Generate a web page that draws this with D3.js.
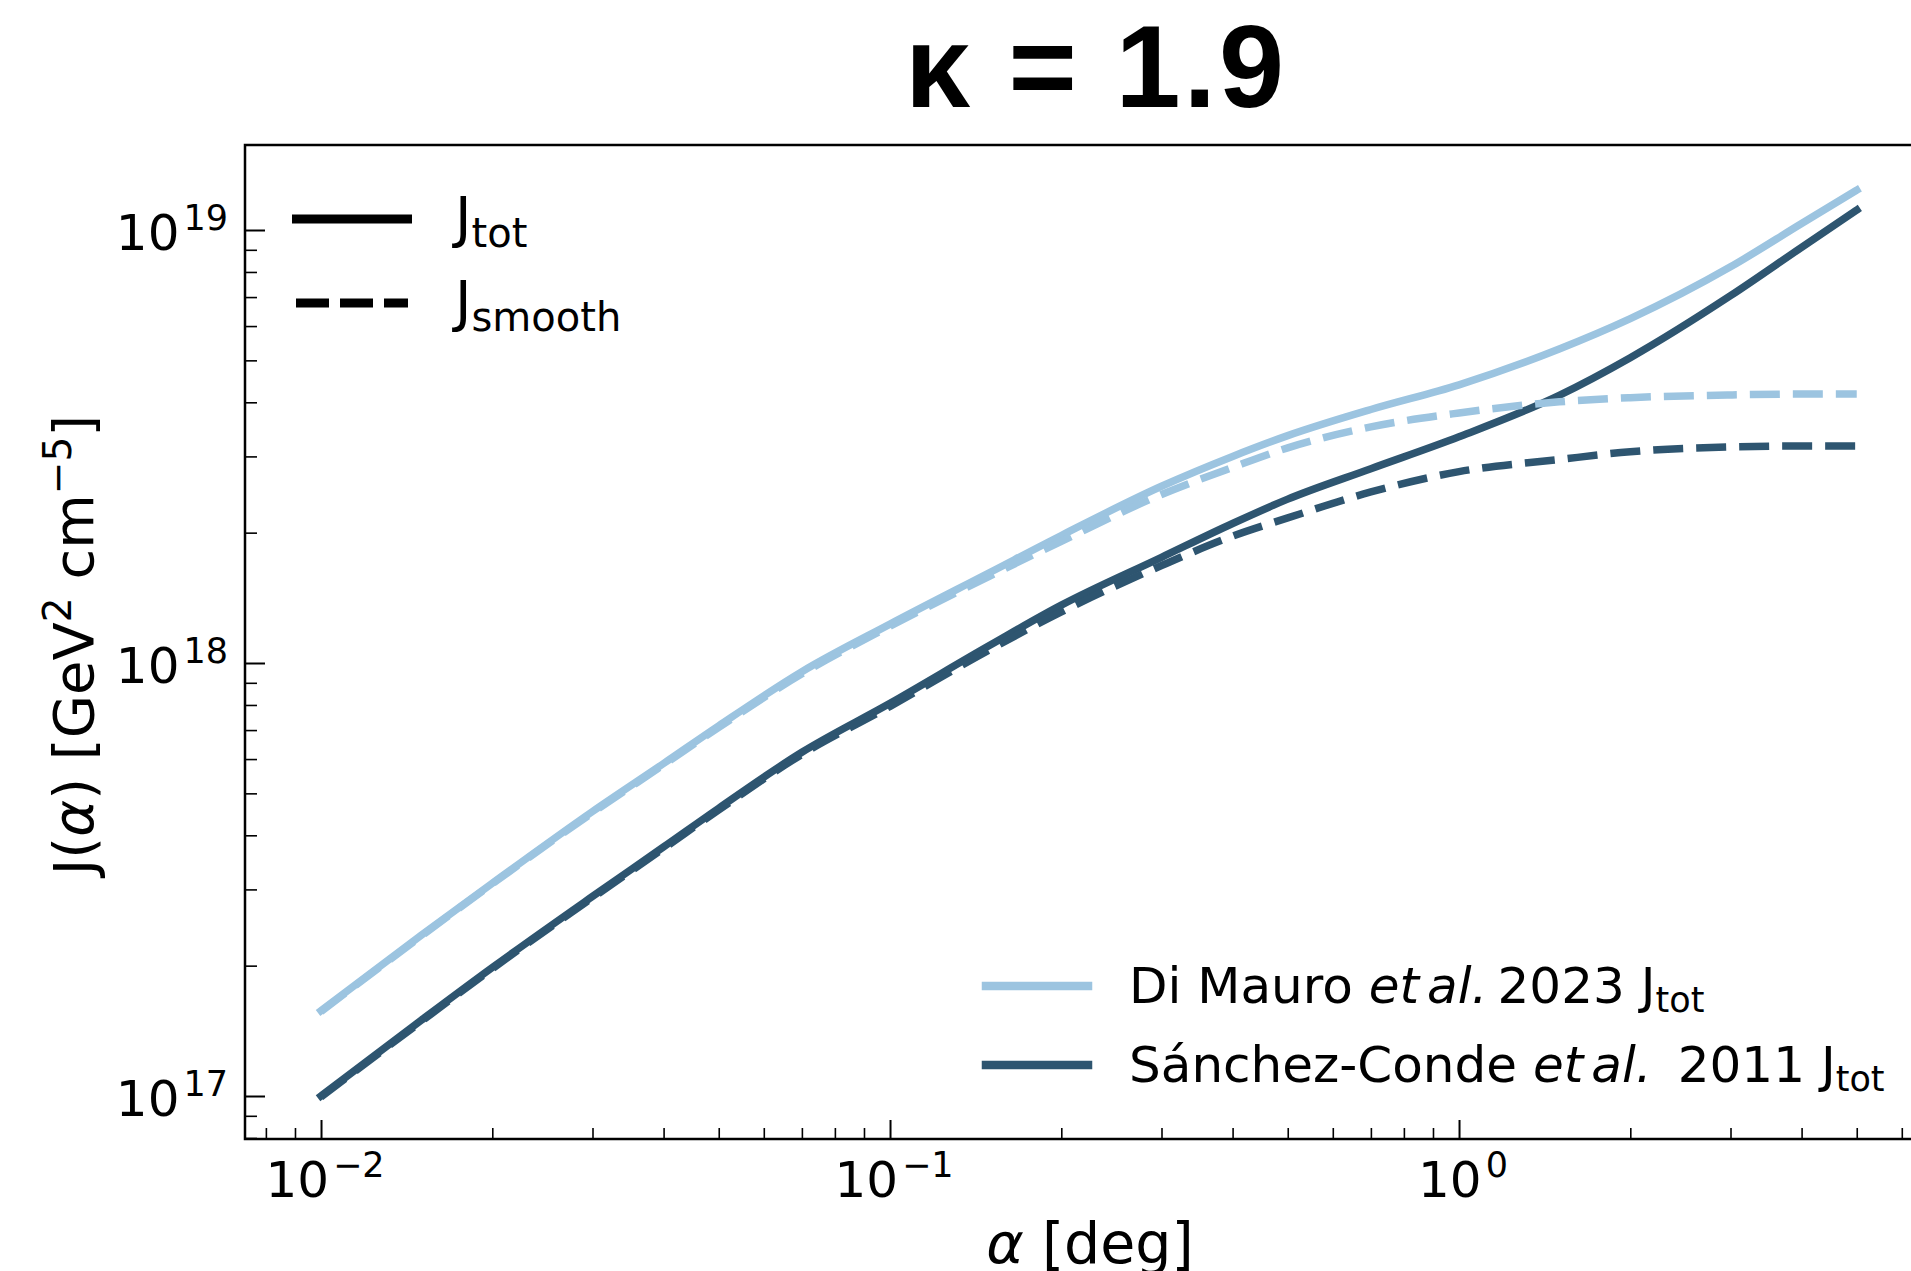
<!DOCTYPE html>
<html>
<head>
<meta charset="utf-8">
<script src="https://cdn.jsdelivr.net/npm/d3@7"></script>
<style>
  body { margin: 0; background: #ffffff; }
  svg { display: block; }
  text { font-family: "DejaVu Sans", sans-serif; fill: #000; }
</style>
</head>
<body>
<script>
// Opening angle alpha [deg]
const alpha = [0.01, 0.015, 0.02, 0.03, 0.04, 0.05, 0.07, 0.1, 0.15, 0.2, 0.3, 0.4, 0.5, 0.7, 1.0, 1.5, 2.0, 3.0, 4.0, 5.0];

// J-factor [GeV^2 cm^-5], Di Mauro et al. 2023 profile
const diMauroTot    = [1.574e17, 2.35e17, 3.10e17, 4.54e17, 5.86e17, 7.16e17, 9.55e17, 1.23e18, 1.62e18, 1.97e18, 2.56e18, 3.00e18, 3.35e18, 3.85e18, 4.39e18, 5.31e18, 6.24e18, 8.22e18, 1.035e19, 1.236e19];
const diMauroSmooth = [1.567e17, 2.34e17, 3.09e17, 4.51e17, 5.82e17, 7.10e17, 9.44e17, 1.216e18, 1.59e18, 1.91e18, 2.45e18, 2.83e18, 3.14e18, 3.51e18, 3.78e18, 4.01e18, 4.10e18, 4.16e18, 4.18e18, 4.18e18];

// J-factor [GeV^2 cm^-5], Sanchez-Conde et al. 2011 profile
const sanchezTot    = [1.00e17, 1.496e17, 1.98e17, 2.89e17, 3.76e17, 4.62e17, 6.22e17, 8.07e17, 1.10e18, 1.36e18, 1.754e18, 2.10e18, 2.39e18, 2.81e18, 3.33e18, 4.15e18, 5.07e18, 7.05e18, 9.12e18, 1.112e19];
const sanchezSmooth = [0.995e17, 1.486e17, 1.968e17, 2.87e17, 3.73e17, 4.58e17, 6.15e17, 7.94e17, 1.075e18, 1.312e18, 1.679e18, 1.963e18, 2.163e18, 2.483e18, 2.767e18, 2.951e18, 3.076e18, 3.155e18, 3.17e18, 3.17e18];

// Axis ticks (decade exponents)
const xTickExponents = [-2, -1, 0];
const yTickExponents = [17, 18, 19];

const LIGHT = "#9cc4e0";
const DARK = "#2e5570";

const W = 1911, H = 1271;
const plot = { left: 245, right: 1933, top: 145, bottom: 1139 };

const svg = d3.select("body").append("svg")
  .attr("width", W).attr("height", H)
  .attr("viewBox", `0 0 ${W} ${H}`);

const x = d3.scaleLog()
  .domain([Math.pow(10, -2.1336), Math.pow(10, 0.833)])
  .range([plot.left, plot.right]);
const y = d3.scaleLog()
  .domain([Math.pow(10, 16.9007), Math.pow(10, 19.1963)])
  .range([plot.bottom, plot.top]);

// clip for the curves
svg.append("defs").append("clipPath").attr("id", "plotclip")
  .append("rect")
  .attr("x", plot.left).attr("y", plot.top)
  .attr("width", plot.right - plot.left).attr("height", plot.bottom - plot.top);

// ---- minor / major tick values ----
function minorTicks(scale) {
  const [a, b] = scale.domain();
  const out = [];
  for (let k = Math.floor(Math.log10(a)); k <= Math.ceil(Math.log10(b)); k++) {
    for (let m = 2; m <= 9; m++) {
      const v = m * Math.pow(10, k);
      if (v >= a && v <= b) out.push(v);
    }
  }
  return out;
}
const xMajor = xTickExponents.map(e => Math.pow(10, e));
const yMajor = yTickExponents.map(e => Math.pow(10, e));

// inward ticks on bottom axis
svg.append("g").attr("class", "xminor")
  .attr("transform", `translate(0,${plot.bottom})`)
  .call(d3.axisBottom(x).tickValues(minorTicks(x)).tickSize(-11).tickSizeOuter(0).tickFormat(""))
  .call(g => g.select(".domain").remove())
  .call(g => g.selectAll("line").attr("stroke", "#000").attr("stroke-width", 1.6));
svg.append("g").attr("class", "xmajor")
  .attr("transform", `translate(0,${plot.bottom})`)
  .call(d3.axisBottom(x).tickValues(xMajor).tickSize(-19).tickSizeOuter(0).tickFormat(""))
  .call(g => g.select(".domain").remove())
  .call(g => g.selectAll("line").attr("stroke", "#000").attr("stroke-width", 2));

// inward ticks on left axis
svg.append("g").attr("class", "yminor")
  .attr("transform", `translate(${plot.left},0)`)
  .call(d3.axisLeft(y).tickValues(minorTicks(y)).tickSize(-12).tickSizeOuter(0).tickFormat(""))
  .call(g => g.select(".domain").remove())
  .call(g => g.selectAll("line").attr("stroke", "#000").attr("stroke-width", 1.6));
svg.append("g").attr("class", "ymajor")
  .attr("transform", `translate(${plot.left},0)`)
  .call(d3.axisLeft(y).tickValues(yMajor).tickSize(-20).tickSizeOuter(0).tickFormat(""))
  .call(g => g.select(".domain").remove())
  .call(g => g.selectAll("line").attr("stroke", "#000").attr("stroke-width", 2));

// ---- tick labels 10^n ----
function powerLabel(sel, exp) {
  sel.append("tspan").text("10");
  sel.append("tspan")
    .attr("font-size", 35).attr("dx", 4).attr("dy", -20)
    .text(exp < 0 ? "\u2212" + Math.abs(exp) : String(exp));
}
xTickExponents.forEach(e => {
  const t = svg.append("text")
    .attr("x", x(Math.pow(10, e)) + 4).attr("y", plot.bottom + 58)
    .attr("font-size", 50).attr("text-anchor", "middle");
  powerLabel(t, e);
});
yTickExponents.forEach(e => {
  const t = svg.append("text")
    .attr("x", 228).attr("y", y(Math.pow(10, e)) + 20)
    .attr("font-size", 50).attr("text-anchor", "end");
  powerLabel(t, e);
});

// ---- curves ----
const line = d3.line().x(d => x(d[0])).y(d => y(d[1])).curve(d3.curveMonotoneX);
const curves = [
  { values: sanchezTot, color: DARK, dashed: false },
  { values: sanchezSmooth, color: DARK, dashed: true },
  { values: diMauroTot, color: LIGHT, dashed: false },
  { values: diMauroSmooth, color: LIGHT, dashed: true }
];
const gCurves = svg.append("g").attr("clip-path", "url(#plotclip)");
curves.forEach(c => {
  gCurves.append("path")
    .datum(alpha.map((a, i) => [a, c.values[i]]))
    .attr("d", line)
    .attr("fill", "none")
    .attr("stroke", c.color)
    .attr("stroke-width", 7.5)
    .attr("stroke-linejoin", "round")
    .attr("stroke-linecap", c.dashed ? "butt" : "square")
    .attr("stroke-dasharray", c.dashed ? "30,13" : null);
});

// ---- frame ----
svg.append("rect")
  .attr("x", plot.left).attr("y", plot.top)
  .attr("width", plot.right - plot.left).attr("height", plot.bottom - plot.top)
  .attr("fill", "none").attr("stroke", "#000").attr("stroke-width", 2.5);

// ---- line-style legend (upper left) ----
const styleLegend = [
  { sub: "tot", dashed: false, y: 219 },
  { sub: "smooth", dashed: true, y: 303 }
];
styleLegend.forEach(s => {
  svg.append("line")
    .attr("x1", s.dashed ? 296 : 296.5).attr("x2", s.dashed ? 408 : 407.5)
    .attr("y1", s.y).attr("y2", s.y)
    .attr("stroke", "#000").attr("stroke-width", 9)
    .attr("stroke-linecap", s.dashed ? "butt" : "square")
    .attr("stroke-dasharray", s.dashed ? "33,11" : null);
  const t = svg.append("text").attr("x", 455).attr("y", s.y + 17).attr("font-size", 56);
  t.append("tspan").text("J");
  t.append("tspan").attr("font-size", 40).attr("dy", 11).text(s.sub);
});

// ---- reference legend (lower right) ----
const refLegend = [
  { name: "Di Mauro ", year: "2023", color: LIGHT, y: 986, gap: 10 },
  { name: "S\u00e1nchez-Conde ", year: "2011", color: DARK, y: 1065, gap: 26 }
];
refLegend.forEach(r => {
  svg.append("line")
    .attr("x1", 986).attr("x2", 1088)
    .attr("y1", r.y).attr("y2", r.y)
    .attr("stroke", r.color).attr("stroke-width", 8.5)
    .attr("stroke-linecap", "square");
  const t = svg.append("text").attr("x", 1129).attr("y", r.y + 17).attr("font-size", 50)
    .attr("xml:space", "preserve");
  t.append("tspan").text(r.name);
  t.append("tspan").attr("font-style", "italic").text("et");
  t.append("tspan").attr("font-style", "italic").attr("dx", 8).text("al.");
  t.append("tspan").attr("dx", r.gap).text(r.year);
  t.append("tspan").attr("dx", 16).text("J");
  t.append("tspan").attr("font-size", 35).attr("dy", 9).text("tot");
});

// ---- axis labels ----
const xl = svg.append("text")
  .attr("x", 1090).attr("y", 1263)
  .attr("font-size", 57).attr("text-anchor", "middle");
xl.append("tspan").attr("font-style", "italic").text("\u03b1");
xl.append("tspan").text(" [deg]");

const yl = svg.append("text")
  .attr("transform", "translate(93,645) rotate(-90)")
  .attr("font-size", 56).attr("text-anchor", "middle");
yl.append("tspan").text("J(");
yl.append("tspan").attr("font-style", "italic").text("\u03b1");
yl.append("tspan").text(") [GeV");
yl.append("tspan").attr("font-size", 39).attr("dy", -22).text("2");
yl.append("tspan").attr("dy", 22).text(" cm");
yl.append("tspan").attr("font-size", 39).attr("dy", -22).text("\u22125");
yl.append("tspan").attr("dy", 22).text("]");

// ---- title ----
svg.append("text")
  .attr("x", 1096).attr("y", 107)
  .attr("text-anchor", "middle")
  .style("font-family", "'Liberation Sans', Arial, sans-serif")
  .style("letter-spacing", "3px")
  .attr("font-weight", "bold")
  .attr("font-size", 117)
  .text("\u03ba = 1.9");
</script>
</body>
</html>
